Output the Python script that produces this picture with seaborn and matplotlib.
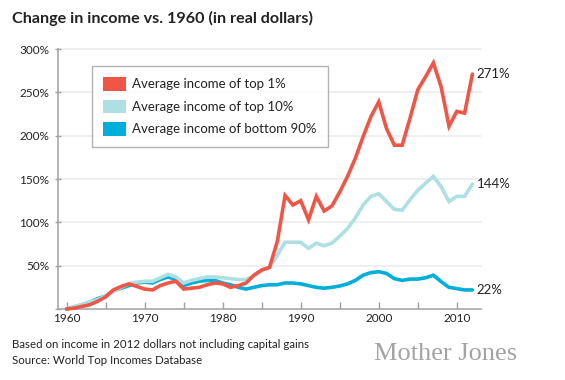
import numpy as np
import pandas as pd
import matplotlib
matplotlib.use("Agg")
import matplotlib.pyplot as plt
from matplotlib.patches import Patch
import seaborn as sns

years = list(range(1960, 2013))
top1 = [0, 1, 3, 5, 9, 14, 22, 26, 29, 26, 23, 22, 27, 30, 32, 23, 24, 25, 28, 30,
        29, 25, 27, 30, 39, 45, 48, 78, 131, 120, 125, 103, 130, 113, 119, 135, 153, 174, 199, 222,
        239, 208, 189, 189, 220, 253, 268, 284, 256, 211, 228, 226, 271]
top10 = [0, 3, 5, 8, 11, 15, 20, 25, 29, 31, 32, 32, 36, 40, 37, 30, 33, 35, 37, 37,
         36, 35, 34, 34, 38, 44, 48, 62, 77, 77, 77, 70, 76, 73, 76, 84, 93, 105, 120, 130,
         133, 124, 115, 114, 126, 137, 145, 153, 141, 124, 130, 130, 144]
bottom90 = [0, 2, 5, 8, 12, 15, 21, 24, 27, 30, 31, 30, 34, 37, 34, 27, 30, 32, 33, 33,
            30, 28, 25, 23, 25, 27, 28, 28, 30, 30, 29, 27, 25, 24, 25, 26.5, 29, 33, 39, 42,
            43, 41, 35, 33, 34.5, 34.5, 36, 39, 31.5, 25, 23.5, 22, 22]

series_names = ["Average income of top 1%", "Average income of top 10%", "Average income of bottom 90%"]
colors = ["#ef5646", "#aedfe3", "#00afd9"]
end_labels = ["271%", "144%", "22%"]
y_ticks = [0, 50, 100, 150, 200, 250, 300]
y_ticklabels = ["", "50%", "100%", "150%", "200%", "250%", "300%"]
x_ticks = [1960, 1970, 1980, 1990, 2000, 2010]

df = pd.DataFrame({
    "year": years * 3,
    "value": top1 + top10 + bottom90,
    "series": [series_names[0]] * len(years) + [series_names[1]] * len(years) + [series_names[2]] * len(years),
})

sns.set_theme(style="white")
plt.rcParams["font.family"] = ["Lato", "DejaVu Sans"]

fig = plt.figure(figsize=(5.65, 3.8), dpi=100)
ax = fig.add_axes([58 / 565, 1 - 309 / 380, (481 - 58) / 565, (309 - 49) / 380])

for y in y_ticks[1:]:
    ax.axhline(y, color="#eeeeee", lw=1.3, zorder=0)

order = [2, 1, 0]
for i in order:
    sub = df[df["series"] == series_names[i]]
    sns.lineplot(data=sub, x="year", y="value", color=colors[i], lw=2.6, ax=ax,
                 legend=False, zorder=3 + (2 - i))
for line in ax.lines:
    line.set_clip_on(False)
    line.set_solid_joinstyle("miter")

ax.set_xlim(1958.9, 2013.1)
ax.set_ylim(0, 300)
ax.set_xlabel("")
ax.set_ylabel("")
ax.set_xticks(x_ticks)
ax.set_xticks([1965, 1975, 1985, 1995, 2005], minor=True)
ax.set_yticks(y_ticks)
ax.set_yticklabels(y_ticklabels)
ax.tick_params(axis="x", which="both", direction="in", length=5, width=1, color="#a0a0a0",
               labelsize=8.5, pad=3, labelcolor="#222222", bottom=True)
ax.tick_params(axis="y", direction="inout", length=5, width=1, color="#a0a0a0",
               labelsize=8.5, pad=4, labelcolor="#222222", left=True)
for s in ["top", "right"]:
    ax.spines[s].set_visible(False)
for s in ["left", "bottom"]:
    ax.spines[s].set_color("#a8a8a8")
    ax.spines[s].set_linewidth(1.2)

ends = [top1[-1], top10[-1], bottom90[-1]]
for lab, v in zip(end_labels, ends):
    ax.annotate(lab, xy=(years[-1], v), xytext=(3, 0), textcoords="offset points",
                va="center", ha="left", fontsize=9.5, color="#222222", annotation_clip=False)

handles = [Patch(facecolor=c, edgecolor="none") for c in colors]
leg = ax.legend(handles, series_names, loc="upper left", bbox_to_anchor=(0.08, 0.935),
                frameon=True, fancybox=False, fontsize=9.5, handlelength=1.75, handleheight=1.2,
                handletextpad=0.45, labelspacing=0.68, borderpad=0.85, borderaxespad=0)
leg.get_frame().set_edgecolor("#a0a0a0")
leg.get_frame().set_linewidth(1.0)
for t in leg.get_texts():
    t.set_color("#222222")

fig.text(12 / 565, 1 - 18 / 380, "Change in income vs. 1960 (in real dollars)", fontsize=11.6,
         fontweight="bold", va="center", ha="left", color="#222222")
fig.text(12 / 565, 1 - 345 / 380, "Based on income in 2012 dollars not including capital gains",
         fontsize=8.3, va="center", ha="left", color="#222222")
fig.text(12 / 565, 1 - 360 / 380, "Source: World Top Incomes Database",
         fontsize=8.3, va="center", ha="left", color="#222222")
fig.text(374 / 565, 1 - 354 / 380, "Mother Jones", fontsize=19, family="Liberation Serif",
         va="center", ha="left", color="#a3a3a3")

fig.savefig("out.png", dpi=100)
